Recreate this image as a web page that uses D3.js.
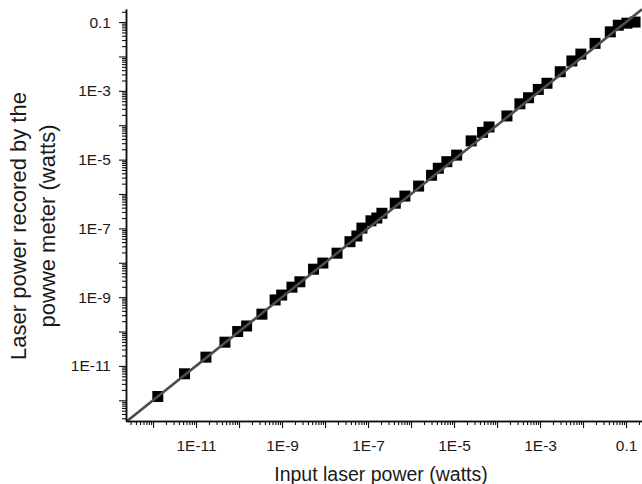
<!DOCTYPE html>
<html>
<head>
<meta charset="utf-8">
<script src="https://cdn.jsdelivr.net/npm/d3@7"></script>
<style>
  body { margin: 0; background: #fff; }
  svg text { font-family: "Liberation Sans", Arial, sans-serif; fill: #1a1a1a; }
</style>
</head>
<body>
<div id="vis"></div>
<script>
// valores (watts)
const inputPower = [
  1.29e-12, 5.4e-12, 1.7e-11, 4.7e-11, 9.3e-11, 1.5e-10, 3.4e-10, 6.9e-10, 9.8e-10, 1.7e-9,
  2.6e-9, 5.4e-9, 8.9e-9, 1.9e-8, 3.8e-8, 5.5e-8, 7.2e-8, 1.17e-7, 1.6e-7, 2.1e-7,
  4.3e-7, 7.2e-7, 1.5e-6, 3.0e-6, 4.3e-6, 6.8e-6, 1.15e-5, 2.5e-5, 4.6e-5, 6.5e-5,
  1.7e-4, 3.4e-4, 5.4e-4, 9.1e-4, 1.45e-3, 2.95e-3, 5.5e-3, 8.9e-3, 1.9e-2, 4.3e-2,
  6.6e-2, 0.105, 0.162
];
const meterPower = [
  1.29e-12, 5.9e-12, 1.8e-11, 4.9e-11, 1.0e-10, 1.45e-10, 3.2e-10, 8.3e-10, 1.15e-9, 1.95e-9,
  2.8e-9, 6.5e-9, 9.8e-9, 1.9e-8, 4.1e-8, 6.0e-8, 1.02e-7, 1.66e-7, 2.0e-7, 2.75e-7,
  5.4e-7, 8.7e-7, 1.7e-6, 3.5e-6, 5.6e-6, 8.7e-6, 1.35e-5, 3.5e-5, 6.2e-5, 8.9e-5,
  1.86e-4, 4.2e-4, 6.3e-4, 1.1e-3, 1.66e-3, 3.6e-3, 7.4e-3, 1.17e-2, 2.4e-2, 5.2e-2,
  8.1e-2, 0.093, 0.10
];
const tickValues = [1e-11, 1e-9, 1e-7, 1e-5, 1e-3, 0.1];
const tickLabels = ["1E-11", "1E-9", "1E-7", "1E-5", "1E-3", "0.1"];
const X_TITLE = "Input laser power (watts)";
const Y_TITLE = ["Laser power recored by the", "powwe meter (watts)"];

const WIDTH = 642;
const HEIGHT = 484;
const PLOT = { left: 126, right: 642, top: 9, bottom: 421 };

const SVG = d3.select("#vis").append("svg")
  .attr("width", WIDTH).attr("height", HEIGHT);

const escalaX = d3.scaleLog()
  .domain([2.35e-13, 0.235])
  .range([PLOT.left, PLOT.right]);

const escalaY = d3.scaleLog()
  .domain([2.5e-13, 0.24])
  .range([PLOT.bottom, PLOT.top]);

// ticks menores y mayores
const decadas = d3.range(-13, 1).map(e => Math.pow(10, e));
const esDecada = t => decadas.some(d => Math.abs(t / d - 1) < 1e-6);
const menoresX = escalaX.ticks(40).filter(t => !esDecada(t));
const menoresY = escalaY.ticks(40).filter(t => !esDecada(t));
const mayoresX = decadas.filter(d => d >= escalaX.domain()[0] && d <= escalaX.domain()[1]);
const mayoresY = decadas.filter(d => d >= escalaY.domain()[0] && d <= escalaY.domain()[1]);

const etiqueta = v => {
  const i = tickValues.findIndex(t => Math.abs(v / t - 1) < 1e-6);
  return i >= 0 ? tickLabels[i] : "";
};

SVG.append("clipPath").attr("id", "plotclip")
  .append("rect")
  .attr("x", PLOT.left).attr("y", PLOT.top - 10)
  .attr("width", PLOT.right - PLOT.left + 10)
  .attr("height", PLOT.bottom - PLOT.top + 10);

const contenedor = SVG.append("g").attr("clip-path", "url(#plotclip)");

// puntos
contenedor.selectAll(".punto")
  .data(inputPower.map((d, i) => ({ x: d, y: meterPower[i] })))
  .join("rect")
  .attr("class", "punto")
  .attr("x", d => escalaX(d.x) - 5.5)
  .attr("y", d => escalaY(d.y) - 5.5)
  .attr("width", 11)
  .attr("height", 11)
  .attr("fill", "#000");

// linea y = x
const linea = d3.line()
  .x(d => escalaX(d))
  .y(d => escalaY(d));

contenedor.append("path")
  .datum(escalaX.domain())
  .attr("fill", "none")
  .attr("stroke", "#4d4d4d")
  .attr("stroke-width", 2.6)
  .attr("d", linea);

// eje X
const ejeX = SVG.append("g").attr("transform", `translate(0, ${PLOT.bottom})`);
ejeX.append("g")
  .call(d3.axisBottom(escalaX).tickValues(menoresX).tickSize(4).tickSizeOuter(0).tickFormat(""));
ejeX.append("g")
  .call(d3.axisBottom(escalaX).tickValues(mayoresX).tickSize(7).tickSizeOuter(0).tickPadding(12).tickFormat(etiqueta));

// eje Y
const ejeY = SVG.append("g").attr("transform", `translate(${PLOT.left}, 0)`);
ejeY.append("g")
  .call(d3.axisLeft(escalaY).tickValues(menoresY).tickSize(4).tickSizeOuter(0).tickFormat(""));
ejeY.append("g")
  .call(d3.axisLeft(escalaY).tickValues(mayoresY).tickSize(7).tickSizeOuter(0).tickPadding(8).tickFormat(etiqueta));

SVG.selectAll(".domain").attr("stroke", "#111").attr("stroke-width", 1.5);
SVG.selectAll(".tick line").attr("stroke", "#111").attr("stroke-width", 1.1);
SVG.selectAll(".tick text").attr("font-size", 15.5).attr("fill", "#1a1a1a");

// titulos
SVG.append("text")
  .attr("x", 381)
  .attr("y", 481)
  .attr("text-anchor", "middle")
  .attr("font-size", 19.5)
  .text(X_TITLE);

SVG.append("g")
  .attr("transform", "translate(0, 226) rotate(-90)")
  .selectAll("text")
  .data(Y_TITLE)
  .join("text")
  .attr("x", 0)
  .attr("y", (d, i) => 26 + i * 29)
  .attr("text-anchor", "middle")
  .attr("font-size", 22)
  .text(d => d);
</script>
</body>
</html>
